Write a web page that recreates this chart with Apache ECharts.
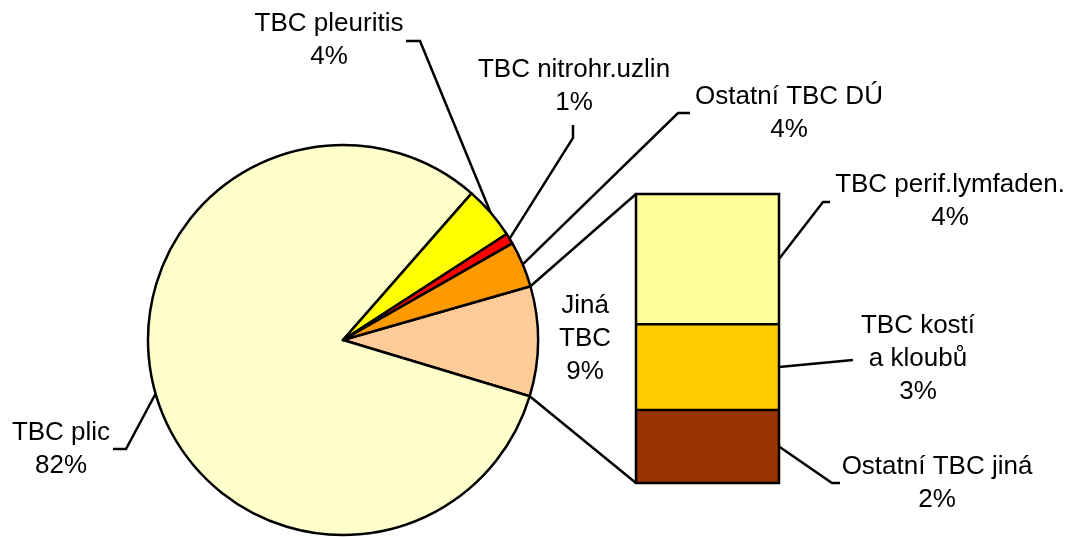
<!DOCTYPE html>
<html><head><meta charset="utf-8">
<script src="https://cdn.jsdelivr.net/npm/echarts@6/dist/echarts.min.js"></script>
<style>html,body{margin:0;padding:0;background:#fff}#c{width:1073px;height:537px}</style>
</head><body><div id="c"></div>
<script>
// ---- data ----
const pieNames = ['Jiná TBC', 'TBC plic', 'TBC pleuritis', 'TBC nitrohr.uzlin', 'Ostatní TBC DÚ'];
const pieValues = [9.1, 81.8, 4.4, 0.9, 3.8];
const barNames = ['Ostatní TBC jiná', 'TBC kostí\na kloubů', 'TBC perif.lymfaden.'];
const barValues = [2.3, 2.7, 4.1];

// ---- style / layout ----
const pieColors = ['#FFCC99', '#FFFFCC', '#FFFF00', '#FF0000', '#FF9900'];
const barColors = ['#993300', '#FFCC00', '#FFFF99'];
const LW = 2.5;
const CX = 343, CY = 340, R = 195, START = 16;
const pieLabelPos = [[585, 339], [61, 449], [329, 40], [574, 86], [789, 113]];
const pieLeader = [null, [[126, 449], [113, 449]], [[420, 41], [406, 41]], [[573, 138], [573, 125]], [[678, 113], [690, 113]]];
const barLabelPos = [[937, 483], [918, 359], [950, 201]];
const barLeader = [[[832, 483], [840, 483]], [[853, 360]], [[823, 202], [830, 202]]];
const GRID = {left: 636, top: 194, width: 143, height: 289};
const FONT = {fontFamily: '"Liberation Sans", Arial, sans-serif', fontSize: 26, lineHeight: 33, color: '#000'};

const chart = echarts.init(document.getElementById('c'), null, {renderer: 'canvas'});
const barTotal = barValues.reduce((a, b) => a + b, 0);

const barSeries = barNames.map((n, i) => ({
  type: 'bar', name: n, stack: 'jina', xAxisIndex: 0, yAxisIndex: 0,
  barWidth: '100%', data: [barValues[i]],
  itemStyle: {color: barColors[i], borderWidth: 0},
  label: Object.assign({show: true, formatter: p => n + '\n' + Math.round(p.value) + '%'}, FONT),
  labelLayout: () => ({x: barLabelPos[i][0], y: barLabelPos[i][1], align: 'center', verticalAlign: 'middle'}),
  emphasis: {disabled: true}
}));

chart.setOption({
  animation: false,
  grid: Object.assign({}, GRID),
  xAxis: {type: 'category', data: ['Jiná TBC'], show: false, boundaryGap: true},
  yAxis: {type: 'value', min: 0, max: barTotal, show: false},
  series: [{
    type: 'pie', center: [CX, CY], radius: R, startAngle: START, clockwise: true,
    avoidLabelOverlap: false, percentPrecision: 0,
    data: pieNames.map((n, i) => ({name: n, value: pieValues[i], itemStyle: {color: pieColors[i]}})),
    itemStyle: {borderColor: '#000', borderWidth: LW},
    label: Object.assign({show: true, position: 'outside',
      formatter: p => (p.dataIndex === 0 ? p.name.replace(' ', '\n') : p.name) + '\n' + p.percent + '%'}, FONT),
    labelLine: {show: false},
    labelLayout: p => ({x: pieLabelPos[p.dataIndex][0], y: pieLabelPos[p.dataIndex][1], align: 'center', verticalAlign: 'middle'}),
    emphasis: {disabled: true}
  }].concat(barSeries)
});

// ---- leader, connector and outline lines computed from the geometry ----
const pieTotal = pieValues.reduce((a, b) => a + b, 0);
function edgePoint(deg) {
  const t = deg * Math.PI / 180;
  return [CX + R * Math.cos(t), CY - R * Math.sin(t)];
}
const lineStyle = {stroke: '#000', lineWidth: LW, fill: null};
const graphics = [];
const topY = chart.convertToPixel({gridIndex: 0}, [0, barTotal])[1];
const botY = chart.convertToPixel({gridIndex: 0}, [0, 0])[1];
let cum = 0;
pieValues.forEach((v, i) => {
  const a0 = START - 360 * cum / pieTotal;
  const a1 = START - 360 * (cum + v) / pieTotal;
  cum += v;
  if (pieLeader[i]) {
    graphics.push({type: 'polyline', z: 10, shape: {points: [edgePoint((a0 + a1) / 2)].concat(pieLeader[i])}, style: lineStyle});
  }
  if (i === 0) {
    graphics.push({type: 'line', z: 10, shape: {x1: edgePoint(a0)[0], y1: edgePoint(a0)[1], x2: GRID.left, y2: topY}, style: lineStyle});
    graphics.push({type: 'line', z: 10, shape: {x1: edgePoint(a1)[0], y1: edgePoint(a1)[1], x2: GRID.left, y2: botY}, style: lineStyle});
  }
});
graphics.push({type: 'rect', z: 10, shape: {x: GRID.left, y: topY, width: GRID.width, height: botY - topY}, style: lineStyle});
let bcum = 0;
barValues.forEach((v, i) => {
  const ym = chart.convertToPixel({gridIndex: 0}, [0, bcum + v / 2])[1];
  bcum += v;
  graphics.push({type: 'polyline', z: 10, shape: {points: [[GRID.left + GRID.width, ym]].concat(barLeader[i])}, style: lineStyle});
  if (i < barValues.length - 1) {
    const yb = chart.convertToPixel({gridIndex: 0}, [0, bcum])[1];
    graphics.push({type: 'line', z: 10, shape: {x1: GRID.left, y1: yb, x2: GRID.left + GRID.width, y2: yb}, style: lineStyle});
  }
});
chart.setOption({graphic: graphics});
</script>
</body></html>
